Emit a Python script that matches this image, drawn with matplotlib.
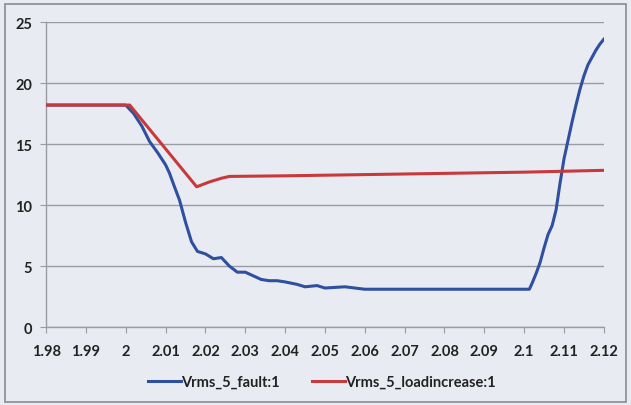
import matplotlib
matplotlib.use("Agg")
import matplotlib.pyplot as plt
from matplotlib.patches import Rectangle

# Data
fault_t = [1.98, 2.0, 2.002, 2.004, 2.006, 2.008, 2.010, 2.011, 2.012, 2.0135, 2.015,
           2.0165, 2.018, 2.02, 2.022, 2.024, 2.026, 2.028, 2.03, 2.032, 2.034,
           2.036, 2.038, 2.04, 2.043, 2.045, 2.048, 2.05, 2.055, 2.06, 2.07,
           2.08, 2.09, 2.1, 2.1013, 2.102, 2.103, 2.104, 2.105, 2.106, 2.107,
           2.108, 2.109, 2.110, 2.111, 2.112, 2.113, 2.114, 2.115, 2.116, 2.117,
           2.118, 2.119, 2.12]
fault_v = [18.2, 18.2, 17.5, 16.5, 15.2, 14.3, 13.3, 12.6, 11.7, 10.4, 8.6,
           7.0, 6.2, 6.0, 5.6, 5.7, 5.0, 4.5, 4.5, 4.2, 3.9,
           3.8, 3.8, 3.7, 3.5, 3.3, 3.4, 3.2, 3.3, 3.1, 3.1,
           3.1, 3.1, 3.1, 3.1, 3.6, 4.4, 5.3, 6.5, 7.6, 8.3,
           9.6, 11.8, 13.8, 15.3, 16.8, 18.2, 19.5, 20.6, 21.5, 22.1,
           22.7, 23.2, 23.6]

load_t = [1.98, 2.0, 2.001, 2.0178, 2.021, 2.024, 2.026, 2.04, 2.06, 2.08, 2.1, 2.12]
load_v = [18.2, 18.2, 18.2, 11.5, 11.9, 12.2, 12.35, 12.4, 12.5, 12.6, 12.7, 12.85]

xticks = [1.98, 1.99, 2.0, 2.01, 2.02, 2.03, 2.04, 2.05, 2.06, 2.07, 2.08, 2.09, 2.1, 2.11, 2.12]
xlabels = ["1.98", "1.99", "2", "2.01", "2.02", "2.03", "2.04", "2.05", "2.06",
           "2.07", "2.08", "2.09", "2.1", "2.11", "2.12"]
yticks = [0, 5, 10, 15, 20, 25]

bg = "#e9ebf3"
grid_c = "#9a9ba3"
plt.rcParams["font.family"] = ["Lato", "DejaVu Sans"]

fig = plt.figure(figsize=(6.31, 4.06), dpi=100, facecolor=bg)
ax = fig.add_axes([0.073, 0.192, 0.884, 0.751], facecolor=bg)

ax.plot(fault_t, fault_v, color="#2f4f9f", lw=2.2, label="Vrms_5_fault:1", zorder=3)
ax.plot(load_t, load_v, color="#c8393b", lw=2.2, label="Vrms_5_loadincrease:1", zorder=3)

ax.set_xlim(1.98, 2.12)
ax.set_ylim(0, 25)
ax.set_xticks(xticks)
ax.set_xticklabels(xlabels)
ax.set_yticks(yticks)
ax.yaxis.grid(True, color=grid_c, lw=1.0)
ax.set_axisbelow(True)

for s in ["top", "right"]:
    ax.spines[s].set_visible(False)
for s in ["left", "bottom"]:
    ax.spines[s].set_color(grid_c)
    ax.spines[s].set_linewidth(1.0)

ax.tick_params(axis="x", direction="out", length=4, color=grid_c, labelsize=10.5,
               labelcolor="#222222", pad=8)
ax.tick_params(axis="y", direction="out", length=4, color=grid_c, labelsize=10.5,
               labelcolor="#222222", pad=6)
for t in ax.get_xticklabels() + ax.get_yticklabels():
    t.set_fontweight("bold")

leg = fig.legend(loc="center", bbox_to_anchor=(0.51, 0.057), ncol=2, frameon=False,
                 handlelength=2.3, handletextpad=0.0, columnspacing=2.2,
                 prop={"size": 10.5, "weight": "bold"})
for t in leg.get_texts():
    t.set_color("#222222")

# outer chart border
fig.patches.append(Rectangle((0.008, 0.008), 0.984, 0.98, transform=fig.transFigure,
                             fill=False, edgecolor="#8a8b92", lw=1.2))

fig.savefig("out.png", dpi=100, facecolor=bg)
